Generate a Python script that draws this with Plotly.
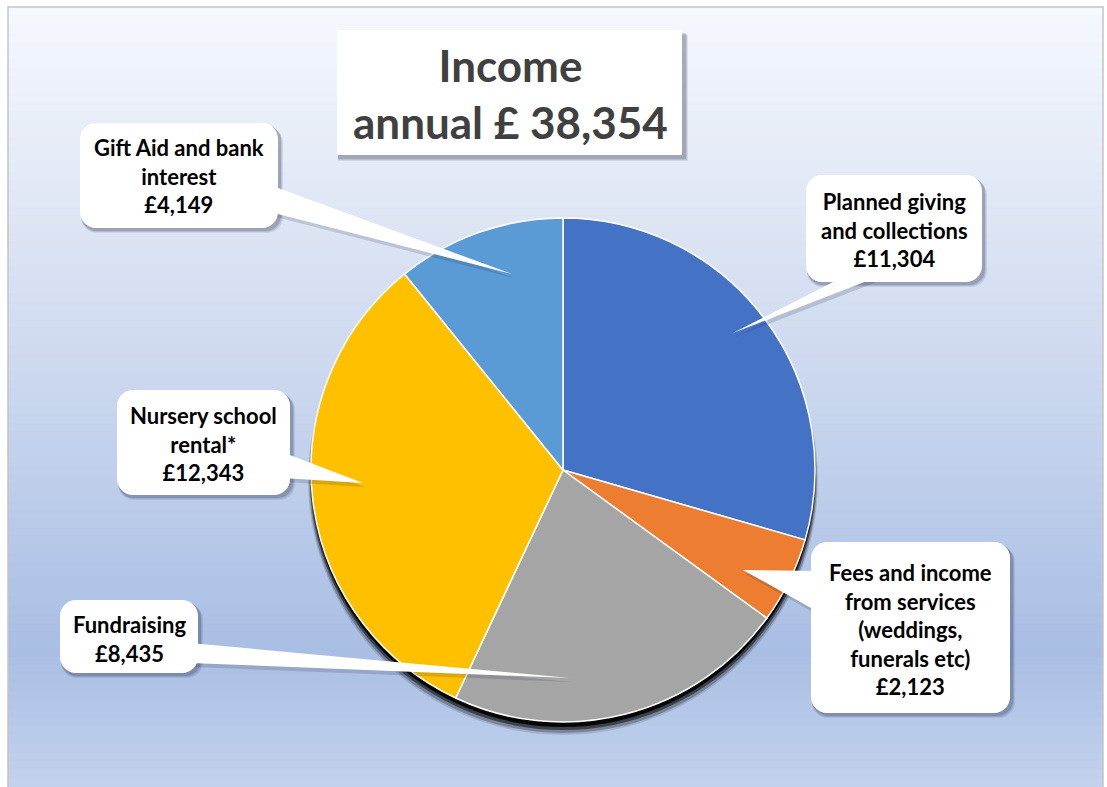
import plotly.graph_objects as go

# ---------------- data ----------------
categories = ["Planned giving and collections", "Fees and income from services (weddings, funerals etc)",
              "Fundraising", "Nursery school rental*", "Gift Aid and bank interest"]
label_lines = [["Planned giving", "and collections"],
               ["Fees and income", "from services", "(weddings,", "funerals etc)"],
               ["Fundraising"],
               ["Nursery school", "rental*"],
               ["Gift Aid and bank", "interest"]]
values = [11304, 2123, 8435, 12343, 4149]
colors = ["#4472C4", "#ED7D31", "#A5A5A5", "#FFC000", "#5B9BD5"]
title_lines = ["Income", "annual £ 38,354"]

W, H = 1107, 787
FONT = "Lato, 'Open Sans', sans-serif"


def px(x):
    return x / W


def py(y):
    return 1 - y / H


def path_from(points, close=True):
    s = "M " + " L ".join(f"{px(x):.5f},{py(y):.5f}" for x, y in points)
    return s + (" Z" if close else "")


def rounded_rect(x0, y0, x1, y1, r):
    k = 0.45
    pts = [
        ("M", (x0 + r, y0)), ("L", (x1 - r, y0)),
        ("C", (x1 - r * k, y0), (x1, y0 + r * k), (x1, y0 + r)),
        ("L", (x1, y1 - r)),
        ("C", (x1, y1 - r * k), (x1 - r * k, y1), (x1 - r, y1)),
        ("L", (x0 + r, y1)),
        ("C", (x0 + r * k, y1), (x0, y1 - r * k), (x0, y1 - r)),
        ("L", (x0, y0 + r)),
        ("C", (x0, y0 + r * k), (x0 + r * k, y0), (x0 + r, y0)),
    ]
    out = []
    for seg in pts:
        cmd = seg[0]
        coords = " ".join(f"{px(a):.5f},{py(b):.5f}" for a, b in seg[1:])
        out.append(f"{cmd} {coords}")
    return " ".join(out) + " Z"


shapes = []

# background gradient inside the frame
stops = [(7, (245, 248, 253)), (250, (219, 227, 243)), (420, (198, 212, 237)),
         (650, (169, 190, 228)), (787, (195, 210, 236))]


def col_at(y):
    for (ya, ca), (yb, cb) in zip(stops[:-1], stops[1:]):
        if ya <= y <= yb:
            t = (y - ya) / (yb - ya)
            return tuple(round(a + (b - a) * t) for a, b in zip(ca, cb))
    return stops[-1][1]


FX0, FY0, FX1, FY1 = 8, 7, 1103, 787
n = 90
for i in range(n):
    ya = FY0 + (FY1 - FY0) * i / n
    yb = FY0 + (FY1 - FY0) * (i + 1) / n + 0.6
    c = col_at((ya + yb) / 2)
    shapes.append(dict(type="rect", xref="paper", yref="paper", layer="below",
                       x0=px(FX0), x1=px(FX1), y0=py(min(yb, H)), y1=py(ya),
                       line=dict(width=0), fillcolor=f"rgb{c}"))
# frame
shapes.append(dict(type="rect", xref="paper", yref="paper", layer="below",
                   x0=px(FX0), x1=px(FX1), y0=py(H + 2), y1=py(FY0),
                   line=dict(color="#C4C4C4", width=1.5), fillcolor="rgba(0,0,0,0)"))

# pie shadow
CX, CY, R = 563, 470, 252
for dx, dy, dr, op in [(0, 10, 3, 0.12), (0, 9, 2, 0.25), (0, 7, 1, 0.5), (0, 5, 0, 0.9)]:
    shapes.append(dict(type="circle", xref="paper", yref="paper", layer="below",
                       x0=px(CX + dx - R - dr), x1=px(CX + dx + R + dr),
                       y0=py(CY + dy + R + dr), y1=py(CY + dy - R - dr),
                       line=dict(width=0), fillcolor=f"rgba(0,0,0,{op})"))

# callout boxes (pixel geometry)
boxes = [(806, 175, 982, 282), (811, 542, 1010, 713), (60, 600, 198, 673),
         (117, 390, 290, 495), (80, 123, 278, 228)]
wedges = [((845, 276), (880, 276), (733, 333)),
          ((820, 571), (820, 613), (743, 570)),
          ((190, 643), (190, 663), (570, 678)),
          ((282, 452), (282, 478), (363, 483)),
          ((270, 185), (270, 212), (512, 274))]
text_centers = [(894, 230), (910.5, 629), (129, 639), (203.5, 444), (179, 176)]

# shadows
for (x0, y0, x1, y1) in boxes:
    for d, op in [(5, 0.10), (4, 0.14), (3, 0.18)]:
        shapes.append(dict(type="path", xref="paper", yref="paper", layer="above",
                           path=rounded_rect(x0 + 1, y0 + d - 1, x1 + d, y1 + d, 16),
                           line=dict(width=0), fillcolor=f"rgba(40,50,80,{op})"))
for (a, b, t) in wedges:
    pts = [(a[0] + 2, a[1] + 4), (b[0] + 2, b[1] + 4), (t[0] + 2, t[1] + 4)]
    shapes.append(dict(type="path", xref="paper", yref="paper", layer="above",
                       path=path_from(pts), line=dict(width=0),
                       fillcolor="rgba(40,50,80,0.18)"))
# title box shadow
TB = (337, 30, 682, 155)
for d, op in [(6, 0.10), (5, 0.14), (4, 0.18)]:
    shapes.append(dict(type="rect", xref="paper", yref="paper", layer="above",
                       x0=px(TB[0] + 1), x1=px(TB[2] + d), y0=py(TB[3] + d), y1=py(TB[1] + d - 1),
                       line=dict(width=0), fillcolor=f"rgba(40,50,80,{op})"))
# white bodies
for (a, b, t) in wedges:
    shapes.append(dict(type="path", xref="paper", yref="paper", layer="above",
                       path=path_from([a, b, t]), line=dict(width=0), fillcolor="white"))
for (x0, y0, x1, y1) in boxes:
    shapes.append(dict(type="path", xref="paper", yref="paper", layer="above",
                       path=rounded_rect(x0, y0, x1, y1, 16),
                       line=dict(width=0), fillcolor="white"))
shapes.append(dict(type="rect", xref="paper", yref="paper", layer="above",
                   x0=px(TB[0]), x1=px(TB[2]), y0=py(TB[3]), y1=py(TB[1]),
                   line=dict(width=0), fillcolor="white"))

annotations = []
for lines, v, (tx, ty) in zip(label_lines, values, text_centers):
    txt = "<br>".join(lines + [f"£{v:,}"])
    annotations.append(dict(x=px(tx), y=py(ty), xref="paper", yref="paper",
                            text=f"<b>{txt}</b>", showarrow=False, align="center",
                            xanchor="center", yanchor="middle",
                            font=dict(family=FONT, size=22, color="#000000")))
annotations.append(dict(x=px(510), y=py(94), xref="paper", yref="paper",
                        text="<b>" + "<br>".join(title_lines) + "</b>", showarrow=False,
                        xanchor="center", yanchor="middle", align="center",
                        font=dict(family=FONT, size=44, color="#404040")))

fig = go.Figure(go.Pie(
    labels=categories, values=values, sort=False, direction="clockwise", rotation=0,
    marker=dict(colors=colors, line=dict(color="white", width=1.5)),
    textinfo="none", hoverinfo="label+value", showlegend=False,
    domain=dict(x=[px(CX - R), px(CX + R)], y=[py(CY + R), py(CY - R)]),
))
fig.update_layout(width=W, height=H, margin=dict(l=0, r=0, t=0, b=0, pad=0),
                  paper_bgcolor="white", plot_bgcolor="white",
                  shapes=shapes, annotations=annotations, showlegend=False)

fig.write_html("out.html", config={"displayModeBar": False},
               post_script="document.body.style.margin='0';document.body.style.overflow='hidden';")
